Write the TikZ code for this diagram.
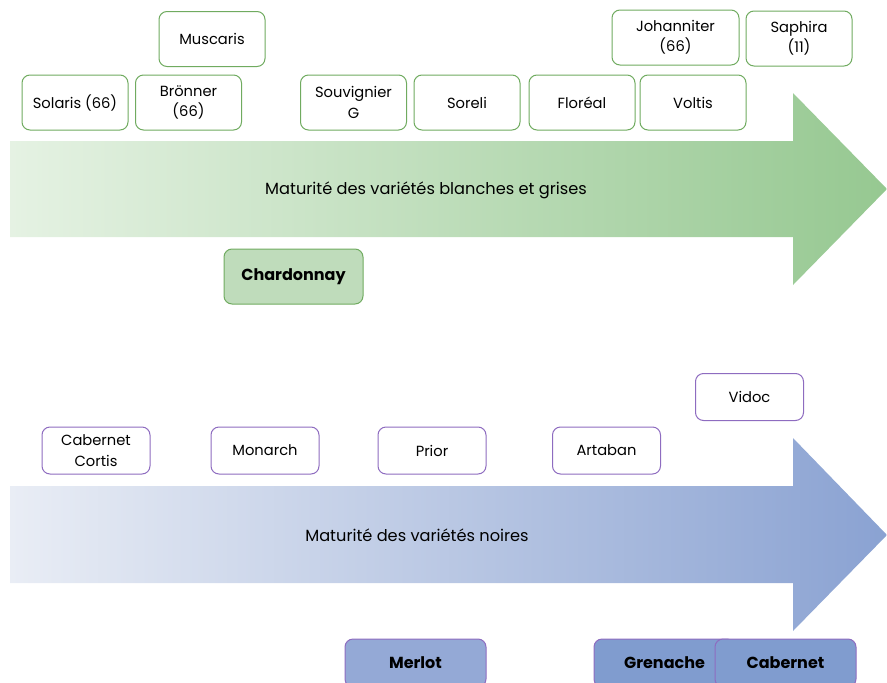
\documentclass[tikz,border=0pt]{standalone}
\usepackage{fontspec}
\setmainfont{Poppins}
\usetikzlibrary{positioning}

\definecolor{vert}{RGB}{112,171,96}
\definecolor{vertclair}{RGB}{229,242,227}
\definecolor{vertfonce}{RGB}{150,200,145}
\definecolor{vertbox}{RGB}{191,220,187}
\definecolor{violet}{RGB}{142,108,192}
\definecolor{bleuclair}{RGB}{233,237,245}
\definecolor{bleufonce}{RGB}{138,162,210}
\definecolor{bleubox}{RGB}{148,169,214}
\definecolor{bleubox2}{RGB}{128,156,207}

\begin{document}
\begin{tikzpicture}[x=1pt,y=-1pt,
        box/.style={rounded corners=8pt,line width=1pt,align=center,
          font=\fontsize{14.7}{20.5}\selectfont,inner sep=2pt},
        blanche/.style={box,draw=vert,fill=white,minimum width=106pt,minimum height=55pt},
        noire/.style={box,draw=violet,fill=white,minimum width=108pt,minimum height=47pt},
        cepage/.style={box,font=\fontsize{16}{19}\selectfont\bfseries,minimum height=55pt}]

  \useasboundingbox (0,0) rectangle (887,683);

  % fleches
  \shade[left color=vertclair,right color=vertfonce]
    (10,141) -- (793,141) -- (793,93) -- (887,189) -- (793,285) -- (793,237) -- (10,237) -- cycle;
  \shade[left color=bleuclair,right color=bleufonce]
    (10,486) -- (793,486) -- (793,438) -- (887,535) -- (793,631) -- (793,583) -- (10,583) -- cycle;

  \node (titreblanc) at (426,190) {\fontsize{16.2}{19}\selectfont Maturité des variétés blanches et grises};
  \node (titrenoir) at (417,535) {\fontsize{16.2}{19}\selectfont Maturité des variétés noires};

  % variétés blanches
  \node[blanche] (muscaris) at (212,39) {Muscaris};
  \node[blanche] (solaris) at (75,102.5) {Solaris (66)};
  \node[blanche] (bronner) at (188.5,102.5) {Brönner\\(66)};
  \node[blanche] (souvignier) at (353.5,102.5) {Souvignier\\G};
  \node[blanche] (soreli) at (467,102.5) {Soreli};
  \node[blanche] (floreal) at (582,102.5) {Floréal};
  \node[blanche] (voltis) at (693,102.5) {Voltis};
  \node[blanche,minimum width=127pt] (johanniter) at (675.5,37.5) {Johanniter\\(66)};
  \node[blanche] (saphira) at (799,38.5) {Saphira\\(11)};
  \node[cepage,draw=vert,fill=vertbox,minimum width=139pt] (chardonnay) at (293.5,276.5) {Chardonnay};

  % variétés noires
  \node[noire] (cortis) at (96,450.5) {Cabernet\\Cortis};
  \node[noire] (monarch) at (265,450.5) {Monarch};
  \node[noire] (prior) at (432,450.5) {Prior};
  \node[noire] (artaban) at (606.5,450.5) {Artaban};
  \node[noire] (vidoc) at (749.5,397) {Vidoc};
  \node[cepage,draw=violet,fill=bleubox,minimum width=141pt,minimum height=48pt] (merlot) at (415.5,663) {Merlot};
  \node[cepage,draw=violet,fill=bleubox2,minimum width=141pt,minimum height=48pt] (grenache) at (664.5,663) {Grenache};
  \node[cepage,draw=violet,fill=bleubox2,minimum width=141pt,minimum height=48pt] (cabernet) at (785.5,663) {Cabernet};

\end{tikzpicture}
\end{document}
